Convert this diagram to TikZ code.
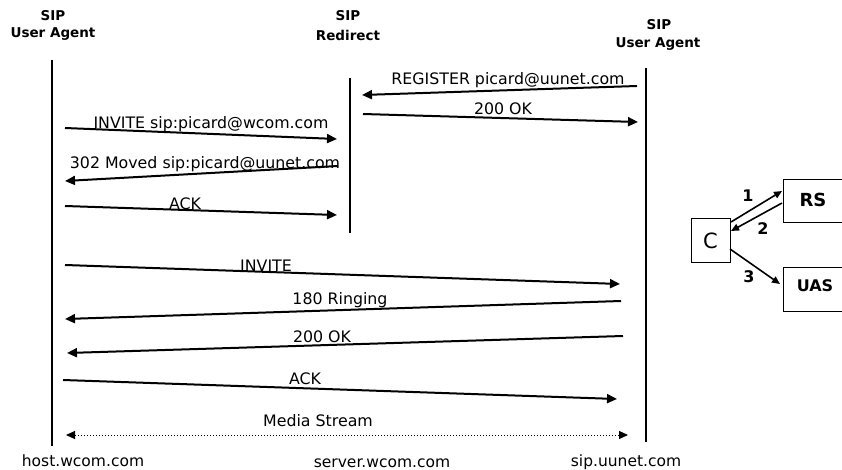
\documentclass[tikz,border=0pt]{standalone}
\usepackage{fontspec}
\setmainfont{DejaVu Sans}
\usetikzlibrary{arrows.meta}
\begin{document}
\begin{tikzpicture}[x=1pt,y=-1pt,
  lifeline/.style={line width=1.4pt},
  msg/.style={line width=2pt,-{Triangle[length=10pt,width=9pt]}},
  media/.style={line width=1pt,dotted,{Triangle[length=9pt,width=8pt]}-{Triangle[length=9pt,width=8pt]}},
  lbl/.style={font=\fontsize{15.8}{16}\selectfont,inner sep=0pt},
  hdr/.style={font=\bfseries\fontsize{13.5}{14}\selectfont,inner sep=0pt,align=center},
  host/.style={font=\fontsize{15.5}{16}\selectfont,inner sep=0pt},
  box/.style={draw,line width=1pt,inner sep=0pt},
  small/.style={line width=1.6pt,-{Triangle[length=8pt,width=7pt]}},
  num/.style={font=\bfseries\fontsize{16}{16}\selectfont,inner sep=0pt}]
\useasboundingbox (0,0) rectangle (842,470);

% column headers
\node[hdr] (h1a) at (53,16) {SIP};
\node[hdr] (h1b) at (53,34) {User Agent};
\node[hdr] (h2a) at (348,16) {SIP};
\node[hdr] (h2b) at (348,35) {Redirect};
\node[hdr] (h3a) at (659,25) {SIP};
\node[hdr] (h3b) at (658,44) {User Agent};

% lifelines
\coordinate (l1t) at (52,60);  \coordinate (l1b) at (52,446);
\coordinate (l2t) at (350,78); \coordinate (l2b) at (350,233);
\coordinate (l3t) at (646,68); \coordinate (l3b) at (646,442);
\draw[lifeline] (l1t) -- (l1b);
\draw[lifeline] (l2t) -- (l2b);
\draw[lifeline] (l3t) -- (l3b);

% host names
\node[host] (f1) at (83,461) {host.wcom.com};
\node[host] (f2) at (382,463) {server.wcom.com};
\node[host] (f3) at (626,462) {sip.uunet.com};

% registration
\coordinate (r1s) at (637,86);  \coordinate (r1e) at (362,95);
\draw[msg] (r1s) -- (r1e);
\node[lbl] (t1) at (508,80) {REGISTER picard@uunet.com};
\coordinate (r2s) at (363,114); \coordinate (r2e) at (638,122);
\draw[msg] (r2s) -- (r2e);
\node[lbl] (t2) at (503,109) {200 OK};

% redirect exchange
\coordinate (a1s) at (65,128);  \coordinate (a1e) at (337,139);
\draw[msg] (a1s) -- (a1e);
\node[lbl] (t3) at (211,124) {INVITE sip:picard@wcom.com};
\coordinate (a2s) at (338,166); \coordinate (a2e) at (65,181);
\draw[msg] (a2s) -- (a2e);
\node[lbl] (t4) at (205,164) {302 Moved sip:picard@uunet.com};
\coordinate (a3s) at (65,206);  \coordinate (a3e) at (337,215);
\draw[msg] (a3s) -- (a3e);
\node[lbl] (t5) at (185,204) {ACK};

% call setup
\coordinate (b1s) at (65,265);  \coordinate (b1e) at (620,284);
\draw[msg] (b1s) -- (b1e);
\node[lbl] (t6) at (266,266) {INVITE};
\coordinate (b2s) at (621,301); \coordinate (b2e) at (65,319);
\draw[msg] (b2s) -- (b2e);
\node[lbl] (t7) at (340,300) {180 Ringing};
\coordinate (b3s) at (623,336); \coordinate (b3e) at (67,353);
\draw[msg] (b3s) -- (b3e);
\node[lbl] (t8) at (322,337) {200 OK};
\coordinate (b4s) at (63,380);  \coordinate (b4e) at (617,399);
\draw[msg] (b4s) -- (b4e);
\node[lbl] (t9) at (305,379) {ACK};
\coordinate (ms) at (66,435);   \coordinate (me) at (628,435);
\draw[media] (ms) -- (me);
\node[lbl] (t10) at (318,421) {Media Stream};

% redirect overview
\node[box,minimum width=39pt,minimum height=43pt] (C) at (710.5,240.5) {\fontsize{21}{21}\selectfont C};
\node[box,anchor=north west,minimum width=62pt,minimum height=43pt] (RS) at (783,179) {};
\node[box,anchor=north west,minimum width=62pt,minimum height=44pt] (UAS) at (783,267) {};
\node[num,font=\bfseries\fontsize{18}{18}\selectfont] (rsl) at (813,200) {RS};
\node[num] (uasl) at (815,286) {UAS};
\coordinate (c1) at (731,222); \coordinate (rs1) at (782,191);
\coordinate (rs2) at (782,203); \coordinate (c2) at (731,231);
\coordinate (c3) at (730,249); \coordinate (u3) at (780,284);
\draw[small] (c1) -- (rs1);
\draw[small] (rs2) -- (c2);
\draw[small] (c3) -- (u3);
\node[num] (n1) at (748,196) {1};
\node[num] (n2) at (763,229) {2};
\node[num] (n3) at (749,277) {3};
\end{tikzpicture}
\end{document}
